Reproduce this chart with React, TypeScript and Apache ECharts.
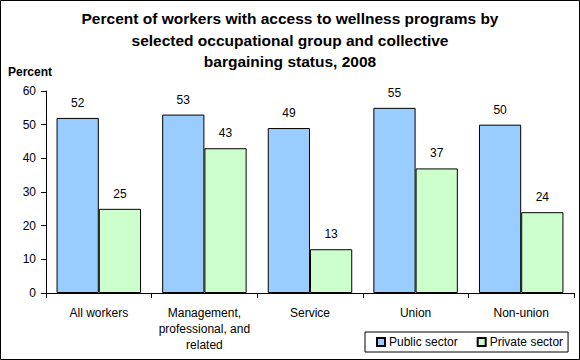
import React, { useEffect, useRef } from "react";
import * as echarts from "echarts";

const categories = ["All workers", "Management,\nprofessional, and\nrelated", "Service", "Union", "Non-union"];
const publicSector = [52, 53, 49, 55, 50];
const privateSector = [25, 43, 13, 37, 24];
const seriesNames = ["Public sector", "Private sector"];
const titleText = "Percent of workers with access to wellness programs by\nselected occupational group and collective\nbargaining status, 2008";

const FONT = "Liberation Sans, Arial, sans-serif";

export default function App() {
  const ref = useRef<HTMLDivElement>(null);
  useEffect(() => {
    if (!ref.current) return;
    const chart = echarts.init(ref.current, null, { renderer: "svg" });
    const labelCfg = {
      show: true,
      position: "top",
      distance: 9,
      color: "#000",
      fontFamily: FONT,
      fontSize: 12,
    };
    chart.setOption({
      animation: false,
      backgroundColor: "#fff",
      title: {
        text: titleText,
        left: "center",
        top: 3,
        textStyle: {
          fontFamily: FONT,
          fontSize: 15.5,
          fontWeight: "bold",
          color: "#000",
          lineHeight: 21.5,
        },
      },
      graphic: [
        {
          type: "rect",
          shape: { x: 0.5, y: 0.5, width: 579, height: 359 },
          style: { fill: "none", stroke: "#000", lineWidth: 1 },
          silent: true,
        },
        {
          type: "text",
          left: 8,
          top: 66,
          style: { text: "Percent", font: `bold 12px ${FONT}`, fill: "#000" },
        },
      ],
      legend: {
        left: 365,
        top: 332,
        orient: "horizontal",
        data: seriesNames,
        borderColor: "#000",
        borderWidth: 1,
        padding: [4, 5, 4, 11],
        itemWidth: 8,
        itemHeight: 8,
        itemGap: 19,
        textStyle: { fontFamily: FONT, fontSize: 12, color: "#000", padding: [0, 0, 0, -1] },
        icon: "rect",
      },
      grid: { left: 46, right: 6, top: 91, bottom: 67 },
      xAxis: {
        type: "category",
        data: categories,
        axisLine: { lineStyle: { color: "#000" } },
        axisTick: { show: true, length: 5, lineStyle: { color: "#000" } },
        axisLabel: {
          color: "#000",
          fontFamily: FONT,
          fontSize: 12,
          margin: 12,
          lineHeight: 16,
          interval: 0,
        },
      },
      yAxis: {
        type: "value",
        min: 0,
        max: 60,
        interval: 10,
        splitLine: { show: false },
        axisLine: { show: true, lineStyle: { color: "#000" } },
        axisTick: { show: true, length: 5, lineStyle: { color: "#000" } },
        axisLabel: { color: "#000", fontFamily: FONT, fontSize: 12, margin: 10 },
      },
      series: [
        {
          name: seriesNames[0],
          type: "bar",
          data: publicSector,
          barGap: "0%",
          barCategoryGap: "20%",
          itemStyle: { color: "#99CCFF", borderColor: "#000", borderWidth: 1 },
          label: labelCfg,
        },
        {
          name: seriesNames[1],
          type: "bar",
          data: privateSector,
          itemStyle: { color: "#CCFFCC", borderColor: "#000", borderWidth: 1 },
          label: labelCfg,
        },
      ],
    });
    return () => chart.dispose();
  }, []);
  return <div ref={ref} style={{ width: 580, height: 360, position: "absolute", left: 0, top: 0 }} />;
}
